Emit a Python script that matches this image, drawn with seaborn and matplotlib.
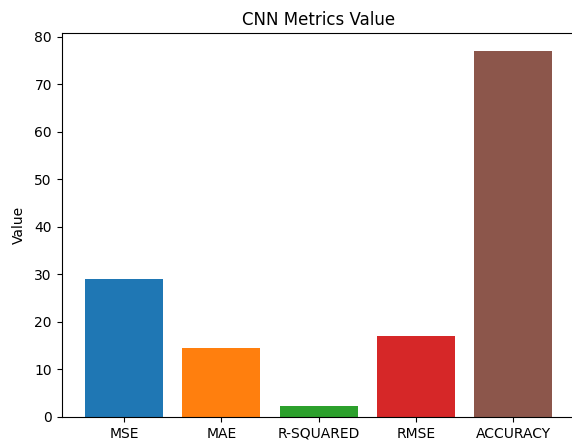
import pandas as pd
import matplotlib
matplotlib.use('Agg')
import matplotlib.pyplot as plt
import seaborn as sbn

metrics = ['MSE', 'MAE', 'R-SQUARED', 'RMSE', 'ACCURACY']
values = [29.1, 14.45, 2.4, 17.1, 77.05]
colors = ['#1f77b4', '#ff7f0e', '#2ca02c', '#d62728', '#8c564b']

df = pd.DataFrame({'metric': metrics, 'value': values})

# figure is cropped on the right in the original, so the right frame edge is not seen
fig = plt.figure(figsize=(5.72, 4.42), dpi=100)
ax = fig.add_axes([61.6 / 572, 25 / 442, 514 / 572, 384 / 442])
sbn.barplot(data=df, x='metric', y='value', hue='metric', palette=colors,
            saturation=1, width=0.8, legend=False, ax=ax)
ax.set_xlim(-0.64, 4.64)
ax.set_ylim(0, 80.8)
ax.spines['right'].set_visible(False)
ax.set_xlabel('')
ax.set_ylabel('Value', labelpad=6)
ax.set_title('CNN Metrics Value')
fig.savefig('out.png', dpi=100)
